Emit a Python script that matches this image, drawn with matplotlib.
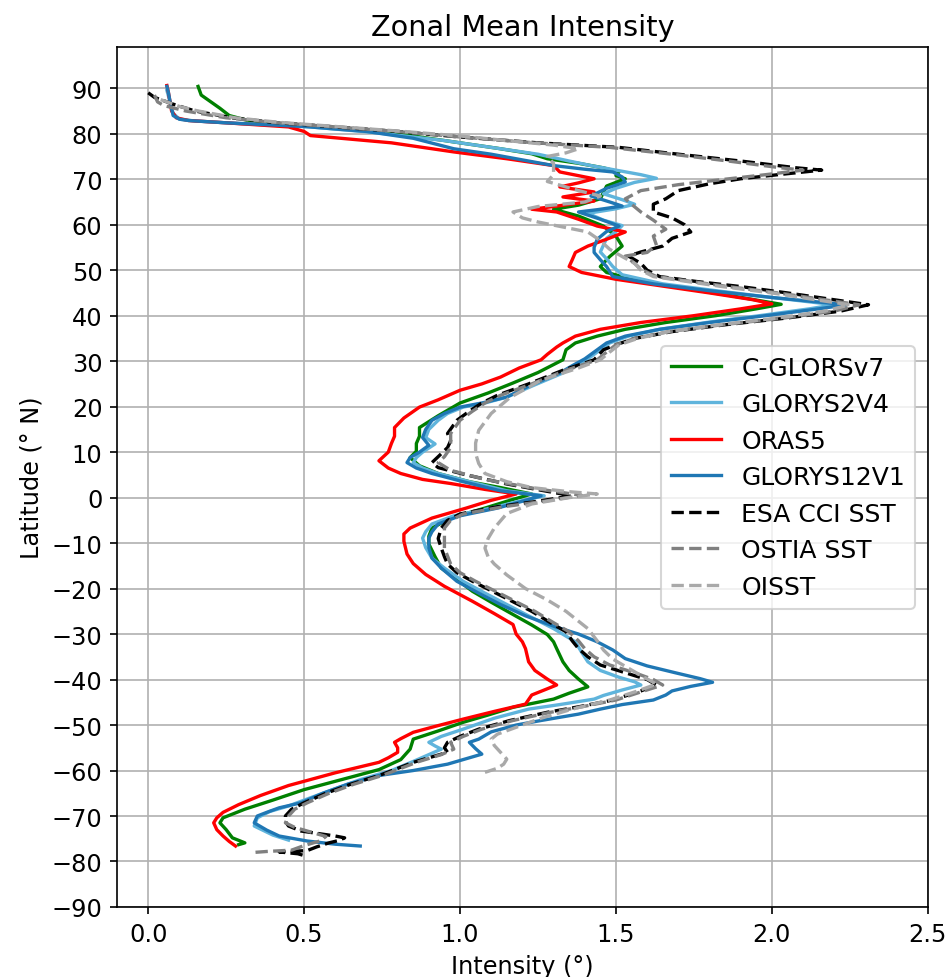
import matplotlib
matplotlib.use('Agg')
import matplotlib.pyplot as plt

# (latitude, intensity) pairs, north to south
cglors = [
  (90.4, 0.16), (88.5, 0.17), (85.6, 0.23), (84.0, 0.26), (82.9, 0.32), (82.0, 0.45), (81.3, 0.62),
  (80.0, 0.80), (78.2, 0.98), (76.8, 1.12), (75.6, 1.23), (74.5, 1.28), (73.5, 1.38), (72.5, 1.46),
  (71.6, 1.51), (70.8, 1.50), (70.1, 1.53), (68.5, 1.47), (65.7, 1.45), (64.3, 1.38), (63.4, 1.30),
  (61.9, 1.38), (59.7, 1.46), (57.5, 1.50), (55.3, 1.52), (53.0, 1.48), (50.8, 1.45), (49.5, 1.47),
  (47.5, 1.58), (46.0, 1.72), (44.5, 1.86), (43.2, 1.97), (42.5, 2.03), (41.5, 1.95), (40.0, 1.82),
  (38.5, 1.66), (37.0, 1.53), (35.5, 1.44), (34.0, 1.37), (32.5, 1.34), (30.3, 1.33), (27.5, 1.25),
  (25.2, 1.17), (23.0, 1.09), (20.8, 1.00), (18.0, 0.93), (15.4, 0.87), (13.5, 0.87), (11.9, 0.86),
  (10.2, 0.86), (8.8, 0.84), (7.0, 0.87), (5.3, 0.93), (3.5, 1.03), (2.2, 1.13), (0.8, 1.23),
  (-0.6, 1.16), (-2.3, 1.08), (-4.5, 0.97), (-6.7, 0.91), (-8.5, 0.90), (-10.2, 0.90), (-13.0, 0.92),
  (-15.5, 0.94), (-18.0, 0.99), (-20.6, 1.04), (-23.0, 1.10), (-25.7, 1.17), (-28.0, 1.23),
  (-30.1, 1.28), (-31.7, 1.30), (-33.2, 1.31), (-36.1, 1.33), (-38.0, 1.35), (-39.9, 1.38),
  (-41.6, 1.41), (-43.0, 1.35), (-44.3, 1.30), (-46.1, 1.17), (-47.8, 1.09), (-49.4, 1.01),
  (-51.3, 0.93), (-53.1, 0.85), (-55.3, 0.84), (-57.6, 0.81), (-59.8, 0.74), (-62.0, 0.62),
  (-64.2, 0.50), (-66.5, 0.40), (-68.5, 0.31), (-70.4, 0.24), (-71.5, 0.23), (-73.0, 0.25),
  (-74.8, 0.27), (-75.9, 0.31), (-76.3, 0.29),
]

glorys2v4 = [
  (89.5, 0.06), (87.0, 0.07), (84.5, 0.08), (83.2, 0.10), (82.8, 0.15), (82.2, 0.30), (81.5, 0.52),
  (80.3, 0.72), (78.5, 0.95), (77.0, 1.10), (75.5, 1.25), (74.0, 1.35), (73.0, 1.42), (72.0, 1.50),
  (71.0, 1.58), (70.2, 1.63), (69.3, 1.56), (68.0, 1.50), (66.8, 1.46), (65.5, 1.52), (64.5, 1.56),
  (63.5, 1.50), (62.5, 1.41), (61.0, 1.46), (59.8, 1.52), (58.5, 1.50), (57.0, 1.47), (55.5, 1.46),
  (54.0, 1.45), (52.5, 1.47), (50.8, 1.49), (49.0, 1.52), (47.0, 1.65), (45.5, 1.82), (44.0, 2.00),
  (42.8, 2.15), (42.4, 2.20), (41.5, 2.12), (40.0, 1.96), (38.5, 1.79), (37.0, 1.64), (35.5, 1.54),
  (34.0, 1.48), (32.0, 1.44), (30.5, 1.41), (29.0, 1.37), (27.4, 1.33), (24.5, 1.23), (22.1, 1.15),
  (20.8, 1.08), (19.9, 1.01), (18.5, 0.96), (17.0, 0.93), (15.0, 0.90), (13.2, 0.89), (11.8, 0.92),
  (10.0, 0.88), (8.8, 0.86), (7.7, 0.85), (6.5, 0.88), (5.3, 0.93), (3.5, 1.03), (1.5, 1.15),
  (0.4, 1.27), (-0.8, 1.19), (-2.3, 1.10), (-4.0, 0.98), (-5.8, 0.91), (-7.5, 0.89), (-8.9, 0.88),
  (-11.0, 0.89), (-13.3, 0.91), (-15.5, 0.95), (-18.4, 1.01), (-21.0, 1.08), (-23.5, 1.15),
  (-26.0, 1.22), (-28.8, 1.30), (-31.7, 1.37), (-34.0, 1.39), (-36.1, 1.41), (-38.0, 1.45),
  (-39.5, 1.51), (-40.5, 1.56), (-41.2, 1.58), (-42.3, 1.52), (-43.5, 1.46), (-44.3, 1.43),
  (-45.5, 1.32), (-46.5, 1.22), (-48.5, 1.11), (-50.9, 1.01), (-52.5, 0.94), (-53.8, 0.90),
  (-54.6, 0.92), (-55.3, 0.94), (-56.5, 0.90), (-58.0, 0.85), (-60.0, 0.78), (-62.0, 0.68),
  (-64.0, 0.60), (-66.0, 0.52), (-67.8, 0.45), (-69.0, 0.39), (-70.4, 0.35), (-72.2, 0.34),
  (-73.2, 0.37), (-74.2, 0.40), (-75.3, 0.45),
]

oras5 = [
  (90.6, 0.06), (89.0, 0.065), (87.0, 0.07), (85.0, 0.075), (83.5, 0.09), (82.9, 0.13), (82.4, 0.25),
  (81.5, 0.45), (80.5, 0.50), (79.6, 0.52), (78.0, 0.78), (76.0, 0.98), (74.5, 1.15), (73.0, 1.30),
  (71.6, 1.32), (70.1, 1.43), (69.2, 1.38), (68.3, 1.32), (67.2, 1.43), (66.1, 1.33), (65.2, 1.43),
  (64.0, 1.30), (63.4, 1.23), (62.8, 1.31), (61.2, 1.38), (59.7, 1.44), (58.4, 1.53), (56.8, 1.47),
  (55.3, 1.41), (53.9, 1.37), (52.3, 1.36), (50.8, 1.35), (49.5, 1.39), (48.0, 1.50), (46.5, 1.65),
  (45.0, 1.80), (43.5, 1.94), (42.6, 2.00), (41.5, 1.90), (40.0, 1.75), (38.5, 1.58), (37.0, 1.45),
  (35.5, 1.37), (34.0, 1.33), (33.1, 1.31), (31.5, 1.28), (30.3, 1.26), (28.5, 1.19), (26.5, 1.13),
  (25.0, 1.07), (23.6, 1.00), (21.5, 0.93), (19.9, 0.87), (17.5, 0.82), (15.4, 0.79), (13.5, 0.79),
  (11.9, 0.78), (10.0, 0.77), (8.1, 0.74), (6.5, 0.77), (5.3, 0.81), (4.0, 0.88), (3.1, 0.97),
  (1.8, 1.08), (0.8, 1.18), (-0.6, 1.10), (-2.3, 1.02), (-4.5, 0.91), (-6.7, 0.84), (-8.0, 0.82),
  (-9.6, 0.82), (-12.4, 0.83), (-14.5, 0.85), (-16.9, 0.89), (-19.5, 0.95), (-22.8, 1.04),
  (-25.5, 1.11), (-27.9, 1.17), (-30.0, 1.18), (-31.7, 1.20), (-33.2, 1.21), (-36.1, 1.22),
  (-38.0, 1.24), (-39.9, 1.28), (-41.2, 1.31), (-42.3, 1.27), (-43.4, 1.23), (-45.4, 1.21),
  (-47.0, 1.11), (-48.7, 1.01), (-50.3, 0.92), (-51.6, 0.85), (-53.0, 0.81), (-53.8, 0.79),
  (-55.0, 0.80), (-56.0, 0.80), (-57.2, 0.77), (-58.2, 0.74), (-60.5, 0.60), (-63.3, 0.45),
  (-65.5, 0.36), (-67.5, 0.29), (-69.2, 0.24), (-70.4, 0.22), (-71.5, 0.21), (-73.0, 0.22),
  (-74.4, 0.24), (-75.6, 0.26), (-76.6, 0.28),
]

glorys12v1 = [
  (90.4, 0.06), (89.0, 0.065), (87.1, 0.07), (85.5, 0.075), (84.0, 0.08), (83.2, 0.10), (82.9, 0.13),
  (82.4, 0.25), (81.6, 0.50), (80.5, 0.70), (79.0, 0.85), (76.7, 0.98), (75.5, 1.10), (74.0, 1.22),
  (73.0, 1.30), (72.2, 1.40), (71.6, 1.49), (70.5, 1.52), (69.4, 1.53), (68.0, 1.47), (66.3, 1.42),
  (65.0, 1.48), (64.1, 1.52), (63.3, 1.44), (62.8, 1.38), (61.2, 1.45), (59.7, 1.51), (58.5, 1.47),
  (56.8, 1.44), (55.0, 1.43), (53.9, 1.43), (52.3, 1.45), (50.8, 1.47), (48.6, 1.49), (47.0, 1.62),
  (45.5, 1.80), (44.0, 2.00), (42.8, 2.18), (42.4, 2.24), (41.5, 2.15), (40.0, 1.98), (38.5, 1.80),
  (37.0, 1.64), (35.5, 1.53), (34.0, 1.47), (32.0, 1.43), (30.5, 1.40), (29.0, 1.36), (27.4, 1.32),
  (24.5, 1.22), (22.1, 1.15), (20.8, 1.07), (19.9, 1.00), (18.5, 0.95), (17.0, 0.91), (15.0, 0.89),
  (13.2, 0.88), (11.5, 0.90), (10.0, 0.87), (8.8, 0.84), (7.7, 0.83), (6.5, 0.86), (5.3, 0.91),
  (3.5, 1.01), (1.5, 1.13), (0.4, 1.26), (-0.8, 1.20), (-2.3, 1.12), (-4.0, 1.00), (-5.8, 0.93),
  (-7.5, 0.91), (-8.9, 0.90), (-11.0, 0.90), (-13.3, 0.91), (-15.5, 0.94), (-18.4, 0.99),
  (-21.0, 1.06), (-23.5, 1.13), (-26.0, 1.21), (-28.5, 1.31), (-30.0, 1.38), (-31.7, 1.44),
  (-33.5, 1.49), (-35.4, 1.53), (-37.0, 1.60), (-38.5, 1.69), (-39.8, 1.77), (-40.6, 1.81),
  (-41.5, 1.74), (-42.5, 1.68), (-43.4, 1.66), (-44.5, 1.62), (-45.5, 1.52), (-46.5, 1.45),
  (-47.6, 1.38), (-49.0, 1.26), (-50.0, 1.18), (-51.5, 1.10), (-53.1, 1.06), (-53.8, 1.03),
  (-55.2, 1.05), (-56.4, 1.07), (-57.6, 1.01), (-58.6, 0.96), (-60.0, 0.85), (-61.1, 0.74),
  (-63.0, 0.64), (-65.0, 0.56), (-67.1, 0.49), (-68.2, 0.42), (-69.2, 0.38), (-70.0, 0.35),
  (-71.5, 0.34), (-73.1, 0.38), (-74.4, 0.42), (-75.5, 0.51), (-76.2, 0.60), (-76.6, 0.68),
]

esa_cci = [
  (89.0, 0.00), (88.0, 0.02), (86.5, 0.08), (85.0, 0.15), (83.5, 0.27), (82.5, 0.40), (81.5, 0.60),
  (80.5, 0.80), (79.4, 0.98), (78.0, 1.25), (77.0, 1.51), (75.5, 1.70), (74.0, 1.90), (72.5, 2.08),
  (72.0, 2.16), (71.0, 2.02), (70.1, 1.90), (69.0, 1.80), (67.5, 1.70), (65.7, 1.66), (64.5, 1.62),
  (62.8, 1.62), (61.5, 1.68), (60.0, 1.72), (58.4, 1.74), (57.0, 1.68), (55.3, 1.65), (54.0, 1.58),
  (53.1, 1.54), (51.5, 1.58), (50.0, 1.60), (48.6, 1.64), (47.5, 1.76), (46.4, 1.90), (45.0, 2.05),
  (43.5, 2.20), (42.4, 2.31), (41.0, 2.22), (39.5, 2.05), (38.0, 1.85), (36.5, 1.68), (35.0, 1.56),
  (33.6, 1.50), (32.5, 1.46), (30.3, 1.43), (28.0, 1.33), (25.0, 1.22), (22.5, 1.12), (20.8, 1.07),
  (19.0, 1.03), (17.0, 0.99), (14.1, 0.96), (12.5, 0.97), (11.0, 0.96), (9.0, 0.93), (7.7, 0.91),
  (6.6, 0.93), (5.0, 1.02), (3.0, 1.15), (1.5, 1.27), (0.4, 1.36), (-0.8, 1.25), (-2.0, 1.12),
  (-3.6, 1.00), (-5.0, 0.96), (-6.7, 0.94), (-9.0, 0.93), (-11.1, 0.94), (-13.0, 0.95), (-14.6, 0.96),
  (-16.5, 0.99), (-18.4, 1.04), (-21.5, 1.13), (-25.0, 1.23), (-27.5, 1.29), (-29.5, 1.34),
  (-31.5, 1.36), (-33.2, 1.38), (-35.0, 1.41), (-36.8, 1.45), (-38.5, 1.53), (-40.0, 1.60),
  (-41.2, 1.63), (-42.5, 1.58), (-44.5, 1.49), (-46.0, 1.38), (-47.2, 1.28), (-49.0, 1.16),
  (-50.9, 1.06), (-52.5, 1.00), (-53.8, 0.96), (-55.0, 0.95), (-56.0, 0.96), (-57.2, 0.90),
  (-58.2, 0.85), (-59.8, 0.79), (-61.1, 0.74), (-63.0, 0.65), (-65.0, 0.57), (-67.1, 0.50),
  (-68.5, 0.46), (-70.0, 0.44), (-71.2, 0.44), (-72.2, 0.45), (-73.3, 0.49), (-74.0, 0.56),
  (-74.4, 0.60), (-74.8, 0.63), (-75.4, 0.61), (-75.9, 0.58), (-76.8, 0.54), (-77.6, 0.51),
  (-77.9, 0.42), (-78.3, 0.48), (-78.7, 0.50),
]

ostia = [
  (88.5, 0.02), (87.0, 0.03), (86.2, 0.05), (85.0, 0.12), (83.5, 0.25), (82.5, 0.40), (81.5, 0.60),
  (80.5, 0.80), (79.4, 0.98), (78.0, 1.24), (77.0, 1.48), (75.5, 1.68), (74.0, 1.86), (72.5, 2.03),
  (72.0, 2.10), (71.0, 1.98), (70.0, 1.85), (68.8, 1.70), (67.5, 1.58), (65.7, 1.53), (64.5, 1.55),
  (62.8, 1.58), (61.0, 1.62), (59.0, 1.66), (57.5, 1.62), (55.5, 1.63), (53.9, 1.60), (53.1, 1.53),
  (51.5, 1.56), (50.2, 1.58), (48.6, 1.63), (46.4, 1.86), (45.0, 2.02), (43.5, 2.17), (42.4, 2.28),
  (41.0, 2.20), (39.5, 2.04), (38.0, 1.84), (36.5, 1.67), (35.0, 1.56), (33.6, 1.50), (32.0, 1.47),
  (30.3, 1.44), (28.0, 1.34), (25.0, 1.23), (22.5, 1.13), (20.8, 1.08), (19.0, 1.04), (17.0, 1.00),
  (14.1, 0.97), (11.0, 0.97), (9.0, 0.95), (7.7, 0.93), (6.0, 0.97), (4.0, 1.08), (2.0, 1.24),
  (0.5, 1.39), (-0.8, 1.27), (-2.0, 1.14), (-3.6, 1.01), (-5.0, 0.97), (-6.7, 0.95), (-9.0, 0.95),
  (-11.1, 0.95), (-14.6, 0.97), (-16.5, 1.00), (-18.4, 1.05), (-21.5, 1.14), (-25.0, 1.24),
  (-27.5, 1.30), (-29.5, 1.35), (-31.5, 1.38), (-33.2, 1.40), (-35.0, 1.43), (-36.8, 1.48),
  (-38.5, 1.56), (-40.0, 1.62), (-41.2, 1.65), (-42.5, 1.59), (-44.5, 1.50), (-46.0, 1.39),
  (-47.2, 1.29), (-49.0, 1.17), (-50.9, 1.07), (-52.5, 1.01), (-53.8, 0.97), (-55.3, 0.98),
  (-56.5, 0.94), (-58.2, 0.86), (-59.8, 0.80), (-61.1, 0.75), (-63.0, 0.66), (-65.0, 0.58),
  (-67.1, 0.51), (-68.5, 0.47), (-70.0, 0.45), (-71.5, 0.44), (-72.5, 0.47), (-73.5, 0.52),
  (-74.5, 0.57), (-75.5, 0.55), (-76.5, 0.50), (-77.5, 0.46), (-77.8, 0.38), (-78.0, 0.34),
]

oisst = [
  (87.5, 0.04), (86.0, 0.10), (85.0, 0.16), (83.5, 0.28), (82.5, 0.42), (81.5, 0.62), (80.5, 0.82),
  (79.5, 1.00), (78.5, 1.15), (77.5, 1.30), (76.7, 1.38), (75.8, 1.34), (75.0, 1.28), (73.5, 1.30),
  (72.0, 1.30), (71.0, 1.30), (69.5, 1.28), (68.5, 1.33), (67.5, 1.38), (66.3, 1.45), (65.0, 1.40),
  (64.0, 1.25), (62.8, 1.17), (61.5, 1.20), (60.6, 1.25), (59.5, 1.33), (58.4, 1.41), (56.5, 1.45),
  (54.6, 1.48), (53.0, 1.52), (51.5, 1.56), (50.0, 1.58), (48.6, 1.62), (46.4, 1.84), (45.0, 2.00),
  (43.5, 2.14), (42.4, 2.25), (41.0, 2.17), (39.5, 2.02), (38.0, 1.83), (36.5, 1.67), (35.0, 1.57),
  (33.6, 1.51), (32.0, 1.48), (30.3, 1.45), (28.5, 1.38), (25.8, 1.26), (22.0, 1.16), (18.5, 1.10),
  (14.8, 1.06), (12.0, 1.05), (9.7, 1.05), (7.5, 1.06), (5.3, 1.08), (3.5, 1.15), (2.2, 1.23),
  (1.3, 1.35), (0.8, 1.44), (0.0, 1.35), (-1.4, 1.23), (-3.5, 1.15), (-6.7, 1.11), (-9.0, 1.09),
  (-11.1, 1.08), (-13.0, 1.09), (-14.6, 1.11), (-17.0, 1.15), (-20.0, 1.21), (-22.5, 1.28),
  (-25.0, 1.34), (-28.8, 1.41), (-31.5, 1.44), (-33.5, 1.46), (-35.5, 1.49), (-37.5, 1.54),
  (-39.5, 1.59), (-41.0, 1.63), (-42.5, 1.57), (-44.5, 1.48), (-46.5, 1.36), (-48.5, 1.26),
  (-50.5, 1.18), (-52.0, 1.12), (-53.1, 1.10), (-54.5, 1.11), (-56.0, 1.13), (-57.5, 1.15),
  (-58.6, 1.14), (-59.5, 1.12), (-60.4, 1.08),
]

series = [
  ('C-GLORSv7', cglors, 'green', '-'),
  ('GLORYS2V4', glorys2v4, '#5fb4dc', '-'),
  ('ORAS5', oras5, 'red', '-'),
  ('GLORYS12V1', glorys12v1, '#1f77b4', '-'),
  ('ESA CCI SST', esa_cci, 'black', '--'),
  ('OSTIA SST', ostia, 'gray', '--'),
  ('OISST', oisst, 'darkgray', '--'),
]

plt.rcParams['font.size'] = 11.5

fig = plt.figure(figsize=(946 / 150, 978 / 150), dpi=150)
ax = fig.add_axes([0.1237, 0.0716, 0.857, 0.879])

for name, pairs, color, ls in series:
  lat = [p[0] for p in pairs]
  val = [p[1] for p in pairs]
  ax.plot(val, lat, color=color, linestyle=ls, linewidth=1.6, label=name)

ax.set_xlim(-0.1, 2.5)
ax.set_ylim(-90, 99)
ax.set_yticks(range(-90, 91, 10))
ax.set_title('Zonal Mean Intensity', fontsize=13.8)
ax.set_xlabel('Intensity (°)')
ax.set_ylabel('Latitude (° N)')
ax.grid()
ax.legend(loc='center right', fontsize=12)

fig.savefig('out.png', dpi=150)
